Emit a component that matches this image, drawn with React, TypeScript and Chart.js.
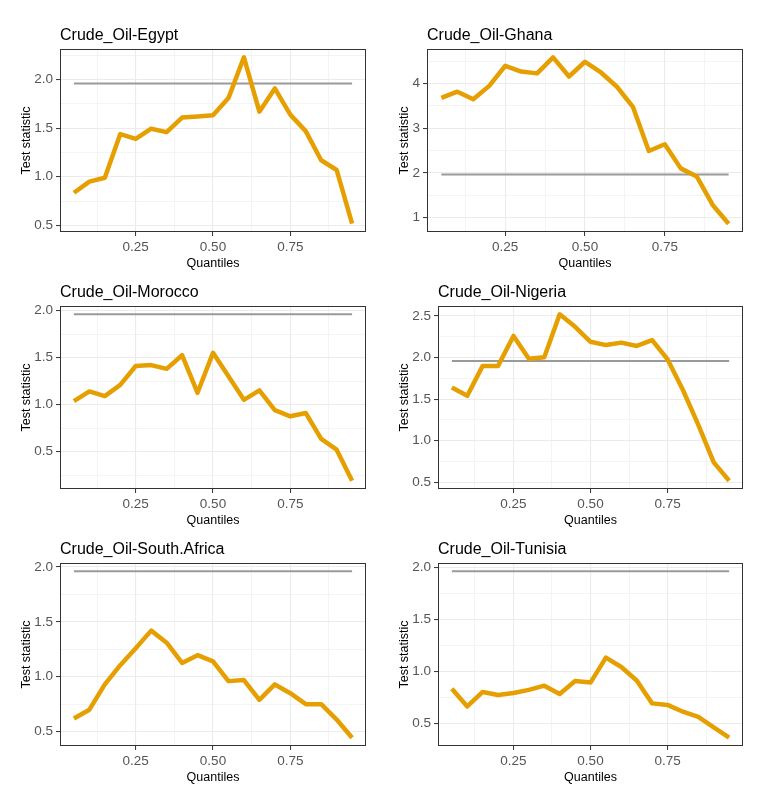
import React, { useEffect, useRef } from 'react';
import { Chart, registerables } from 'chart.js';

Chart.register(...registerables);

// ---------- data ----------
const quantiles = [0.05, 0.1, 0.15, 0.2, 0.25, 0.3, 0.35, 0.4, 0.45, 0.5, 0.55, 0.6, 0.65, 0.7, 0.75, 0.8, 0.85, 0.9, 0.95];

const egypt = [0.835, 0.95, 0.99, 1.44, 1.39, 1.495, 1.46, 1.61, 1.62, 1.633, 1.81, 2.23, 1.67, 1.91, 1.64, 1.47, 1.17, 1.07, 0.517];
const ghana = [3.68, 3.82, 3.65, 3.95, 4.4, 4.27, 4.23, 4.59, 4.16, 4.49, 4.25, 3.93, 3.48, 2.49, 2.64, 2.1, 1.92, 1.28, 0.86];
const morocco = [1.036, 1.14, 1.09, 1.21, 1.41, 1.42, 1.38, 1.525, 1.125, 1.55, 1.3, 1.05, 1.15, 0.94, 0.875, 0.91, 0.635, 0.52, 0.19];
const nigeria = [1.64, 1.54, 1.9, 1.9, 2.26, 1.985, 2.005, 2.52, 2.37, 2.19, 2.15, 2.18, 2.14, 2.21, 1.98, 1.61, 1.19, 0.74, 0.52];
const southAfrica = [0.62, 0.7, 0.93, 1.105, 1.26, 1.42, 1.31, 1.126, 1.196, 1.14, 0.96, 0.97, 0.79, 0.93, 0.85, 0.75, 0.75, 0.61, 0.445];
const tunisia = [0.83, 0.66, 0.8, 0.77, 0.79, 0.82, 0.86, 0.78, 0.905, 0.89, 1.13, 1.04, 0.91, 0.69, 0.675, 0.61, 0.56, 0.46, 0.36];

const criticalValue = 1.96;

const panelTitles = [
  'Crude_Oil-Egypt',
  'Crude_Oil-Ghana',
  'Crude_Oil-Morocco',
  'Crude_Oil-Nigeria',
  'Crude_Oil-South.Africa',
  'Crude_Oil-Tunisia',
];

const xTickValues = [0.25, 0.5, 0.75];
const xTickLabels = ['0.25', '0.50', '0.75'];

const yTicksHalf = [0.5, 1.0, 1.5, 2.0];
const yLabelsHalf = ['0.5', '1.0', '1.5', '2.0'];
const yTicksGhana = [1, 2, 3, 4];
const yLabelsGhana = ['1', '2', '3', '4'];
const yTicksNigeria = [0.5, 1.0, 1.5, 2.0, 2.5];
const yLabelsNigeria = ['0.5', '1.0', '1.5', '2.0', '2.5'];

const xAxisTitle = 'Quantiles';
const yAxisTitle = 'Test statistic';

// ---------- layout ----------
const FONT = '"Liberation Sans", Arial, Helvetica, sans-serif';
const CANVAS_W = 381;
const CANVAS_H = 272;

type Panel = {
  title: string;
  values: number[];
  yTicks: number[];
  yLabels: string[];
  left: number;
  top: number;
  yAxisWidth: number;
  yTitlePad: number;
  padRight: number;
};

const panels: Panel[] = [
  { title: panelTitles[0], values: egypt, yTicks: yTicksHalf, yLabels: yLabelsHalf, left: 0, top: 0, yAxisWidth: 60, yTitlePad: 19.5, padRight: 15 },
  { title: panelTitles[1], values: ghana, yTicks: yTicksGhana, yLabels: yLabelsGhana, left: 381, top: 0, yAxisWidth: 46, yTitlePad: 16.5, padRight: 19 },
  { title: panelTitles[2], values: morocco, yTicks: yTicksHalf, yLabels: yLabelsHalf, left: 0, top: 257, yAxisWidth: 60, yTitlePad: 19.5, padRight: 15 },
  { title: panelTitles[3], values: nigeria, yTicks: yTicksNigeria, yLabels: yLabelsNigeria, left: 381, top: 257, yAxisWidth: 57, yTitlePad: 16, padRight: 19 },
  { title: panelTitles[4], values: southAfrica, yTicks: yTicksHalf, yLabels: yLabelsHalf, left: 0, top: 514, yAxisWidth: 60, yTitlePad: 19.5, padRight: 15 },
  { title: panelTitles[5], values: tunisia, yTicks: yTicksHalf, yLabels: yLabelsHalf, left: 381, top: 514, yAxisWidth: 57, yTitlePad: 16, padRight: 19 },
];

function withMinor(major: number[], lo: number, hi: number): number[] {
  const step = major[1] - major[0];
  const all: number[] = [...major];
  for (let i = 0; i < major.length - 1; i++) all.push((major[i] + major[i + 1]) / 2);
  all.push(major[0] - step / 2);
  all.push(major[major.length - 1] + step / 2);
  return all.filter((v) => v >= lo && v <= hi).sort((a, b) => a - b);
}

function PanelChart({ p }: { p: Panel }) {
  const ref = useRef<HTMLCanvasElement | null>(null);

  useEffect(() => {
    if (!ref.current) return;
    const lo0 = Math.min(...p.values, criticalValue);
    const hi0 = Math.max(...p.values, criticalValue);
    const ex = (hi0 - lo0) * 0.05;
    const yMin = lo0 - ex;
    const yMax = hi0 + ex;
    const xLo0 = quantiles[0];
    const xHi0 = quantiles[quantiles.length - 1];
    const xEx = (xHi0 - xLo0) * 0.05;
    const xMin = xLo0 - xEx;
    const xMax = xHi0 + xEx;

    const yAll = withMinor(p.yTicks, yMin, yMax);
    const xAll = withMinor(xTickValues, xMin, xMax);
    const yMajor = new Set(p.yTicks);
    const xMajor = new Set(xTickValues);

    const frame = {
      id: 'frameAndTitle',
      afterDraw(chart: any) {
        const { ctx, chartArea } = chart;
        ctx.save();
        ctx.strokeStyle = '#333333';
        ctx.lineWidth = 1;
        const l = Math.round(chartArea.left) + 0.5;
        const t = Math.round(chartArea.top) + 0.5;
        const r = Math.round(chartArea.right) - 0.5;
        const b = Math.round(chartArea.bottom) - 0.5;
        ctx.strokeRect(l, t, r - l, b - t);
        ctx.fillStyle = '#000000';
        ctx.font = `16px ${FONT}`;
        ctx.textAlign = 'left';
        ctx.textBaseline = 'alphabetic';
        ctx.fillText(p.title, chartArea.left, chartArea.top - 9);
        ctx.restore();
      },
    };

    const chart = new Chart(ref.current, {
      type: 'line',
      data: {
        datasets: [
          {
            data: quantiles.map((q, i) => ({ x: q, y: p.values[i] })),
            borderColor: '#E69F00',
            borderWidth: 4.5,
            borderJoinStyle: 'round',
            pointRadius: 0,
            tension: 0,
            fill: false,
          },
          {
            data: [
              { x: xLo0, y: criticalValue },
              { x: xHi0, y: criticalValue },
            ],
            borderColor: '#9A9A9A',
            borderWidth: 2,
            pointRadius: 0,
            fill: false,
          },
        ],
      },
      options: {
        responsive: false,
        animation: false,
        devicePixelRatio: 1,
        events: [],
        layout: { padding: { top: 49, right: p.padRight, bottom: 0, left: 0 } },
        plugins: {
          legend: { display: false },
          title: { display: false },
          tooltip: { enabled: false },
        },
        scales: {
          x: {
            type: 'linear',
            min: xMin,
            max: xMax,
            afterBuildTicks: (s: any) => {
              s.ticks = xAll.map((v) => ({ value: v }));
            },
            afterFit: (s: any) => {
              s.height = CANVAS_H - 232;
            },
            ticks: {
              autoSkip: false,
              maxRotation: 0,
              padding: 3,
              color: '#555555',
              font: { family: FONT, size: 13.5 },
              callback: (v: any) => {
                const i = xTickValues.indexOf(v);
                return i >= 0 ? xTickLabels[i] : '';
              },
            },
            grid: {
              color: '#EBEBEB',
              lineWidth: (c: any) => (c.tick && xMajor.has(c.tick.value) ? 1.1 : 0.55),
              tickColor: (c: any) => (c.tick && xMajor.has(c.tick.value) ? '#333333' : 'rgba(0,0,0,0)'),
              tickWidth: 1,
              tickLength: 4,
            },
            border: { display: false },
            title: {
              display: true,
              text: xAxisTitle,
              color: '#000000',
              font: { family: FONT, size: 12.5 },
              padding: { top: 0, bottom: 1 },
            },
          },
          y: {
            type: 'linear',
            min: yMin,
            max: yMax,
            afterBuildTicks: (s: any) => {
              s.ticks = yAll.map((v) => ({ value: v }));
            },
            afterFit: (s: any) => {
              s.width = p.yAxisWidth;
            },
            ticks: {
              autoSkip: false,
              padding: 3,
              color: '#555555',
              font: { family: FONT, size: 13.5 },
              callback: (v: any) => {
                const i = p.yTicks.indexOf(v);
                return i >= 0 ? p.yLabels[i] : '';
              },
            },
            grid: {
              color: '#EBEBEB',
              lineWidth: (c: any) => (c.tick && yMajor.has(c.tick.value) ? 1.1 : 0.55),
              tickColor: (c: any) => (c.tick && yMajor.has(c.tick.value) ? '#333333' : 'rgba(0,0,0,0)'),
              tickWidth: 1,
              tickLength: 4,
            },
            border: { display: false },
            title: {
              display: true,
              text: yAxisTitle,
              color: '#000000',
              font: { family: FONT, size: 12.5 },
              padding: { top: p.yTitlePad, bottom: 0 },
            },
          },
        },
      } as any,
      plugins: [frame],
    });
    return () => chart.destroy();
  }, [p]);

  return (
    <canvas
      ref={ref}
      width={CANVAS_W}
      height={CANVAS_H}
      style={{ position: 'absolute', left: p.left, top: p.top, width: CANVAS_W, height: CANVAS_H }}
    />
  );
}

export default function App() {
  return (
    <div
      style={{
        position: 'absolute',
        left: 0,
        top: 0,
        width: 762,
        height: 790,
        background: '#ffffff',
        overflow: 'hidden',
      }}
    >
      {panels.map((p, i) => (
        <PanelChart key={i} p={p} />
      ))}
    </div>
  );
}
